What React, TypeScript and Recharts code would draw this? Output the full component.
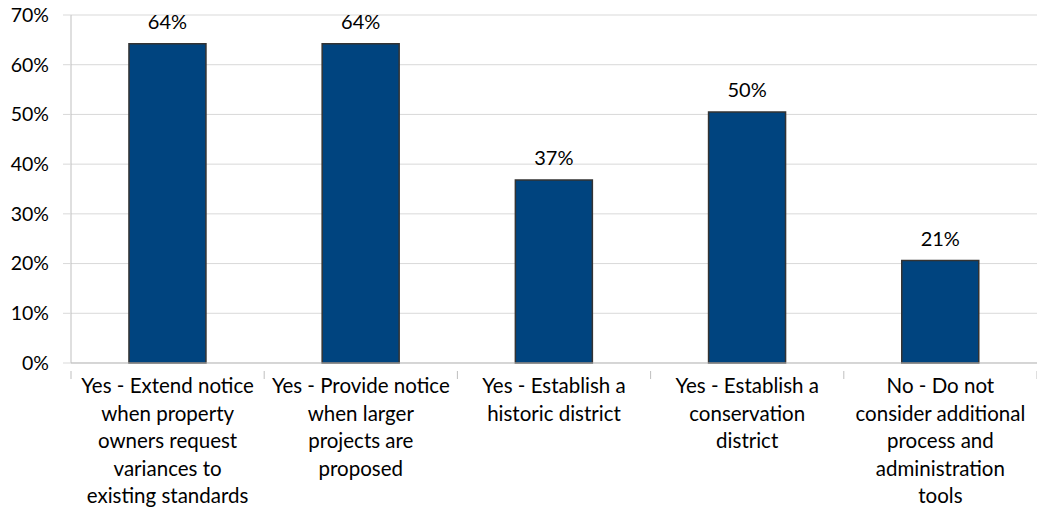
import React from "react";
import { BarChart, Bar, XAxis, YAxis, CartesianGrid, LabelList } from "recharts";

const categories = [
  "Yes - Extend notice when property owners request variances to existing standards",
  "Yes - Provide notice when larger projects are proposed",
  "Yes - Establish a historic district",
  "Yes - Establish a conservation district",
  "No - Do not consider additional process and administration tools",
];
const categoryLines = [
  ["Yes - Extend notice", "when property", "owners request", "variances to", "existing standards"],
  ["Yes - Provide notice", "when larger", "projects are", "proposed"],
  ["Yes - Establish a", "historic district"],
  ["Yes - Establish a", "conservation", "district"],
  ["No - Do not", "consider additional", "process and", "administration", "tools"],
];
const values = [64.2, 64.2, 36.8, 50.5, 20.6];
const valueLabels = ["64%", "64%", "37%", "50%", "21%"];
const yTicks = [0, 10, 20, 30, 40, 50, 60, 70];

const data = categories.map((c, i) => ({ name: c, value: values[i], label: valueLabels[i], idx: i }));

const W = 1037;
const H = 524;
const M = { top: 15, right: 0, left: 0, bottom: 0 };
const Y_W = 71;
const X_H = 161;
const FONT = "Lato, 'Open Sans', sans-serif";
const bandW = (W - M.left - M.right - Y_W) / categories.length;

const XTick = (props: any) => {
  const { x, y, payload, index } = props;
  const lines = categoryLines[index] || [String(payload.value)];
  return (
    <g>
      <line x1={x - bandW / 2} x2={x - bandW / 2} y1={y} y2={y + 8} stroke="#bfbfbf" />
      {index === categories.length - 1 && (
        <line x1={x + bandW / 2} x2={x + bandW / 2} y1={y} y2={y + 8} stroke="#bfbfbf" />
      )}
      <text x={x} y={y + 22} textAnchor="middle" fontSize={20.5} fill="#000" fontFamily={FONT}>
        {lines.map((l, i) => (
          <tspan key={i} x={x} dy={i === 0 ? 0 : 27.5}>
            {l}
          </tspan>
        ))}
      </text>
    </g>
  );
};

export default function App() {
  return (
    <div style={{ position: "absolute", left: 0, top: 0, background: "#fff" }}>
      <BarChart width={W} height={H} data={data} margin={M} barCategoryGap="30%">
        <CartesianGrid horizontal vertical={false} stroke="#d9d9d9" />
        <XAxis
          dataKey="name"
          height={X_H}
          interval={0}
          tickLine={false}
          axisLine={{ stroke: "#bfbfbf" }}
          tick={<XTick />}
        />
        <YAxis
          width={Y_W}
          domain={[0, 70]}
          ticks={yTicks}
          tickFormatter={(v: number) => `${v}%`}
          tickLine={{ stroke: "#d9d9d9" }}
          tickSize={8}
          tickMargin={14}
          axisLine={{ stroke: "#bfbfbf" }}
          tick={{ fontSize: 19.5, fill: "#000", fontFamily: FONT }}
        />
        <Bar dataKey="value" fill="#00447f" stroke="#333333" strokeWidth={1.5} isAnimationActive={false}>
          <LabelList dataKey="label" position="top" offset={15} fontSize={20} fill="#000" fontFamily={FONT} />
        </Bar>
      </BarChart>
    </div>
  );
}
